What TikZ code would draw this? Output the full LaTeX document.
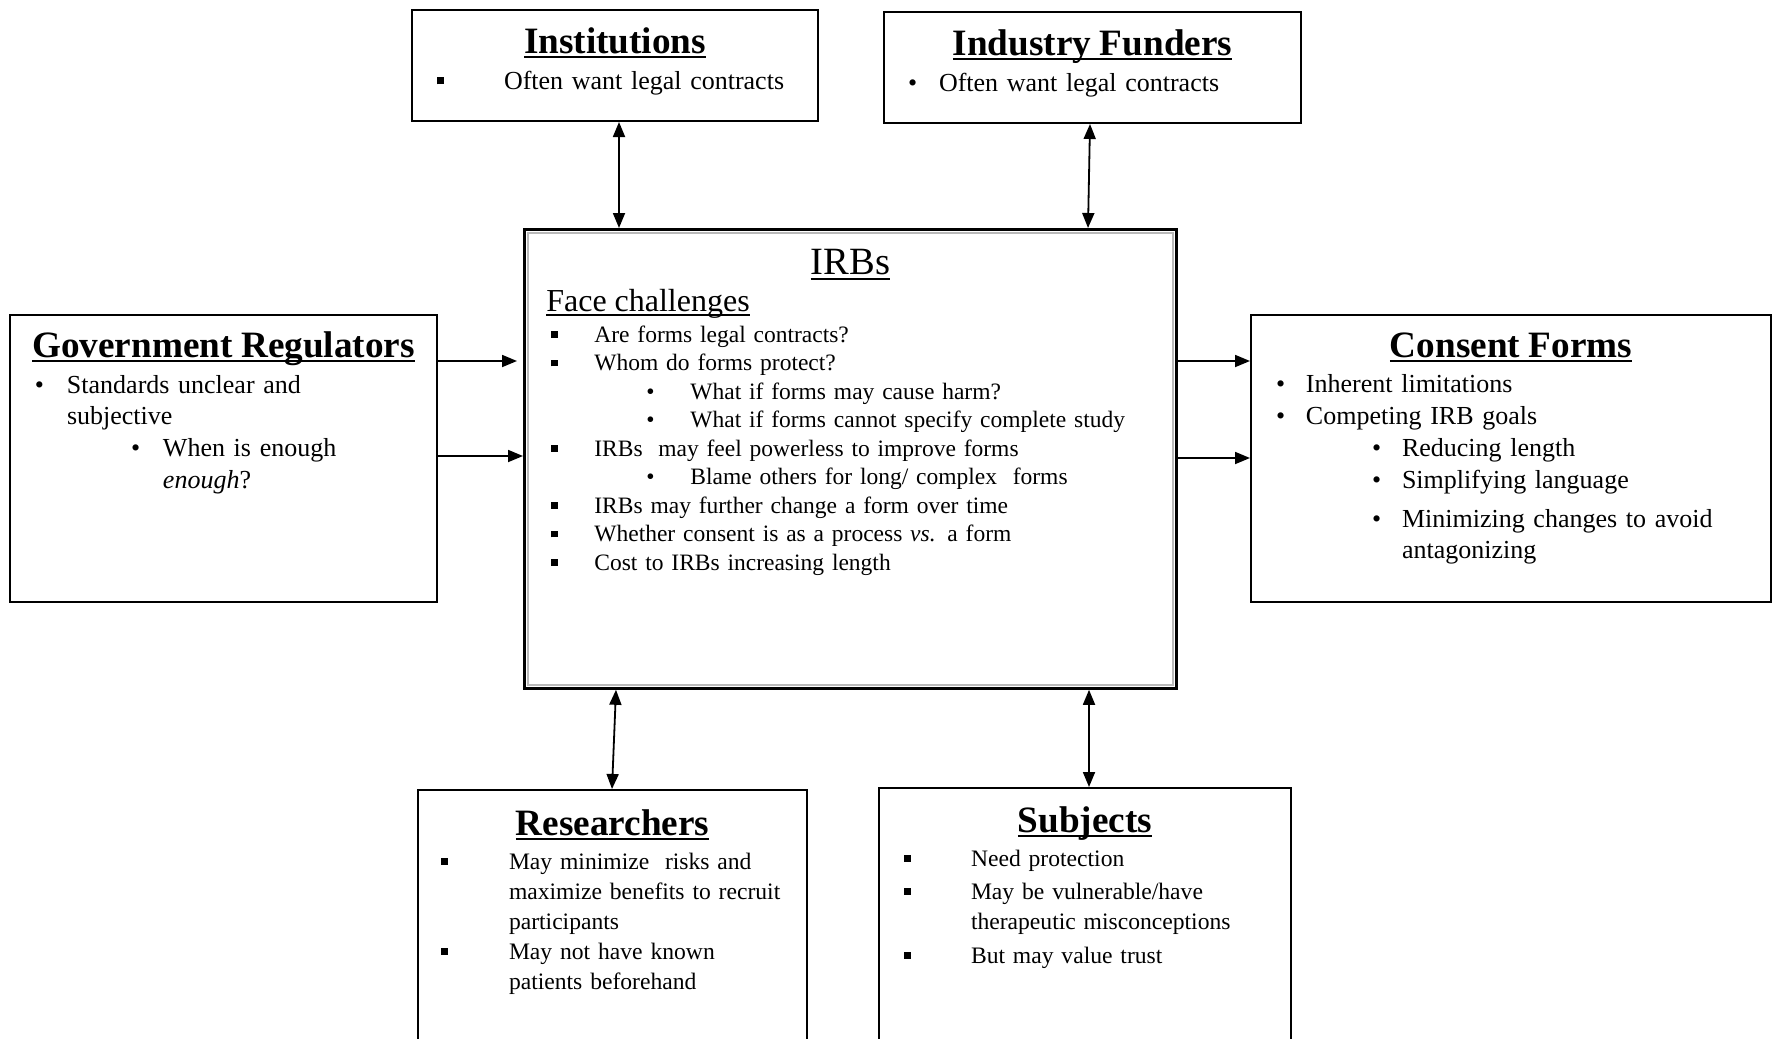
\documentclass[tikz,border=0pt]{standalone}
\usepackage{fontspec}
\setmainfont{Liberation Serif}
\usetikzlibrary{positioning,calc,arrows.meta}

\newcommand{\undl}[1]{\setbox0\hbox{#1}\rlap{\rule[-0.14em]{\wd0}{0.065em}}\box0}
\newcommand{\heading}[1]{{\centering\fontsize{18.6}{22}\selectfont\bfseries\undl{#1}\par}\vspace{2pt}}
\newcommand{\bitem}[4]{{\leftskip=#1\relax\noindent\llap{\makebox[#2][l]{#3}}#4\par}}
\newcommand{\sqbul}{\rule[0.18em]{0.28em}{0.28em}}

\begin{document}
\begin{tikzpicture}[x=0.5pt,y=-0.5pt,>={Triangle[length=7.5pt,width=6pt]},
    box/.style={draw,line width=1pt,inner sep=0pt,anchor=north west},
    txt/.style={inner sep=0pt,align=left,anchor=north,font=\fontsize{13}{15.9}\selectfont},
    small txt/.style={txt,font=\fontsize{11.8}{15}\selectfont},
    link/.style={line width=0.9pt}]

    \useasboundingbox (0,0) rectangle (1775,1038);
    \clip (0,0) rectangle (1775,1038);

    \node[box,minimum width=203pt,minimum height=55.5pt] (inst) at (411,9) {};
    \node[box,minimum width=208.5pt,minimum height=55.5pt] (indf) at (883,11) {};
    \node[box,line width=1.4pt,minimum width=326pt,minimum height=229.5pt] (irb) at (523,228) {};
    \node[box,minimum width=213.5pt,minimum height=143.5pt] (gov) at (9,314) {};
    \node[box,minimum width=260pt,minimum height=143.5pt] (cons) at (1250,314) {};
    \node[box,minimum width=194.5pt,minimum height=126pt] (res) at (417,789) {};
    \node[box,minimum width=206pt,minimum height=127pt] (subj) at (878,787) {};

    \draw[gray!55,line width=1.3pt] ($(irb.north west)+(2.4pt,-2.4pt)$) rectangle ($(irb.south east)+(-2.4pt,2.4pt)$);

    \node[txt,text width=203pt,below=9pt of inst.north] (instt) {\heading{Institutions}
        \bitem{46pt}{33.5pt}{\sqbul}{Often want legal contracts}};
    \node[txt,text width=208.5pt,below=9pt of indf.north] (indft) {\heading{Industry Funders}
        \bitem{27.5pt}{15.5pt}{•}{Often want legal contracts}};
    \node[txt,text width=213.5pt,below=8.5pt of gov.north] (govt) {\heading{Government Regulators}
        \bitem{28.5pt}{16pt}{•}{Standards unclear and\newline subjective}
        \bitem{76.5pt}{16pt}{•}{When is enough\newline \textit{enough}?}};
    \node[txt,text width=260pt,below=9pt of cons.north] (const) {\heading{Consent Forms}
        \bitem{27.5pt}{15pt}{•}{Inherent limitations}
        \bitem{27.5pt}{15pt}{•}{Competing IRB goals}
        \bitem{75.5pt}{15pt}{•}{Reducing length}
        \bitem{75.5pt}{15pt}{•}{Simplifying language}
        \vspace{3.5pt}
        \bitem{75.5pt}{15pt}{•}{Minimizing changes to avoid\newline antagonizing}};
    \node[txt,text width=326pt,below=10.5pt of irb.north,font=\fontsize{11.75}{14.25}\selectfont] (irbt) {%
        {\centering\fontsize{19.3}{22}\selectfont\undl{IRBs}\par}
        {\fontsize{16}{18.5}\selectfont\leftskip=11pt\noindent\undl{Face challenges}\par}
        \vspace{1pt}
        \bitem{35pt}{21.5pt}{\sqbul}{Are forms legal contracts?}
        \bitem{35pt}{21.5pt}{\sqbul}{Whom do forms protect?}
        \bitem{83pt}{22pt}{•}{What if forms may cause harm?}
        \bitem{83pt}{22pt}{•}{What if forms cannot specify complete study}
        \bitem{35pt}{21.5pt}{\sqbul}{IRBs\ \ may feel powerless to improve forms}
        \bitem{83pt}{22pt}{•}{Blame others for long/ complex\ \ forms}
        \bitem{35pt}{21.5pt}{\sqbul}{IRBs may further change a form over time}
        \bitem{35pt}{21.5pt}{\sqbul}{Whether consent is as a process \textit{vs.} a form}
        \bitem{35pt}{21.5pt}{\sqbul}{Cost to IRBs increasing length}};
    \node[small txt,text width=194.5pt,below=10pt of res.north] (rest) {\heading{Researchers}
        \bitem{45.5pt}{34pt}{\sqbul}{May minimize\ \ risks and\newline maximize benefits to recruit\newline participants}
        \bitem{45.5pt}{34pt}{\sqbul}{May not have known\newline patients beforehand}};
    \node[small txt,text width=206pt,below=9.5pt of subj.north] (subjt) {\heading{Subjects}
        \bitem{46pt}{33.5pt}{\sqbul}{Need protection}
        \vspace{1.5pt}
        \bitem{46pt}{33.5pt}{\sqbul}{May be vulnerable/have\newline therapeutic misconceptions}
        \vspace{2pt}
        \bitem{46pt}{33.5pt}{\sqbul}{But may value trust}};

    \path[link]
        (619,0 |- inst.south) edge[<->] (619,0 |- irb.north)
        (1090,0 |- indf.south) edge[<->] (1088,0 |- irb.north)
        (612,0 |- res.north) edge[<->] (616,0 |- irb.south)
        (1089,0 |- subj.north) edge[<->] (1089,0 |- irb.south)
        (gov.east |- 0,361) edge[->] (517,361)
        (gov.east |- 0,456) edge[->] (irb.west |- 0,456)
        (irb.east |- 0,361) edge[->] (cons.west |- 0,361)
        (irb.east |- 0,458) edge[->] (cons.west |- 0,458)
        ;
\end{tikzpicture}
\end{document}
